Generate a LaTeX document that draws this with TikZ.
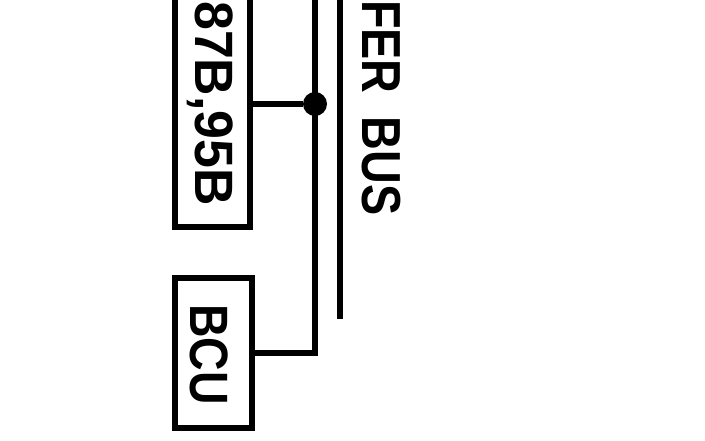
\documentclass[tikz,border=0pt]{standalone}
\usepackage{fontspec}
\setmainfont{Liberation Sans}
\begin{document}
\begin{tikzpicture}[x=1pt,y=-1pt,
  wire/.style={line width=5.5pt},
  boxnode/.style={draw,line width=5.5pt,rectangle,inner sep=0pt},
  lbl/.style={rotate=-90,anchor=base west,inner sep=0pt,font=\fontsize{54}{60}\selectfont\bfseries},
  junction/.style={circle,fill,inner sep=0pt,minimum size=24pt}]
\useasboundingbox (0,0) rectangle (705,441);
\clip (0,0) rectangle (705,441);
% boxes
\node[boxnode,minimum width=75pt,minimum height=287pt] (box1) at (212.5,83.5) {};
\node[boxnode,minimum width=77pt,minimum height=150pt] (bcu) at (213.5,353) {};
% labels
\node[lbl] (t87) at (195,1) {\scalebox{0.96}[1]{87B,95B}};
\node[lbl] (tbcu) at (190,304) {\scalebox{0.86}[1]{BCU}};
\node[lbl,font=\fontsize{55}{60}\selectfont\bfseries] (tbus) at (362,0) {\scalebox{0.85}[1]{FER\hspace{27pt}BUS}};
% junction and lines
\node[junction] (dot) at (315,104) {};
\coordinate (v1top) at (315,-10);
\coordinate (bustop) at (340,-10);
\coordinate (busbot) at (340,319);
\draw[wire] (box1.east |- dot) -- (dot);
\draw[wire] (v1top) |- (bcu.east);
\draw[wire] (bustop) -- (busbot);
\end{tikzpicture}
\end{document}
